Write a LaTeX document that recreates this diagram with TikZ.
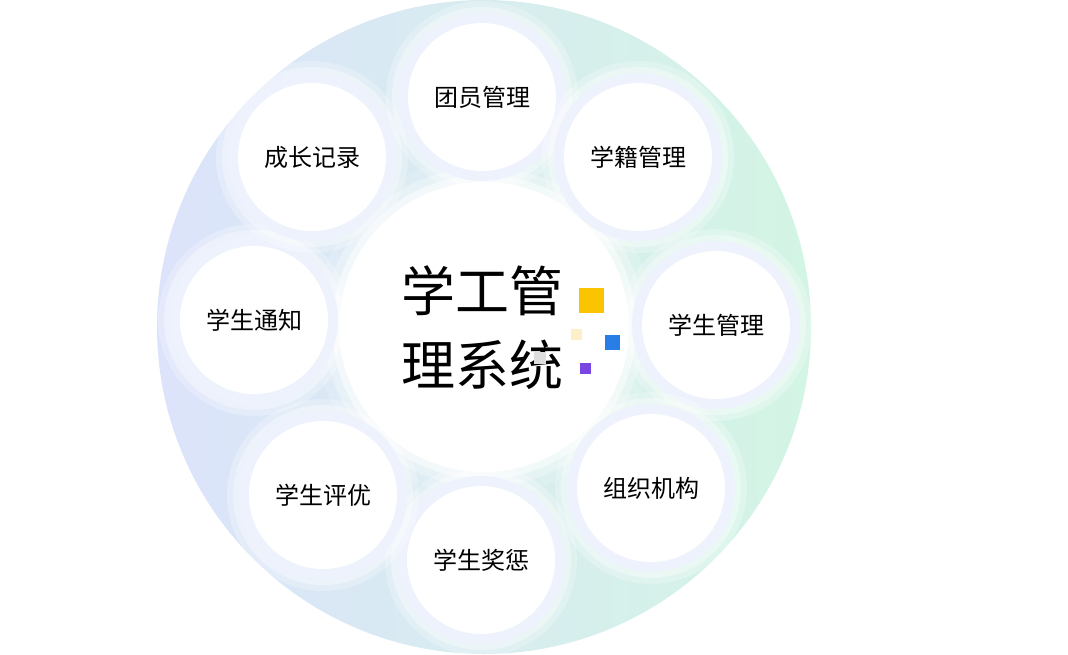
\documentclass[tikz,border=0pt]{standalone}
\usepackage{fontspec}
\newfontfamily\cjk{Noto Sans CJK SC}
\begin{document}
\begin{tikzpicture}[x=1pt,y=-1pt,
  ring/.style={circle,minimum size=168pt,fill=ringc,inner sep=0pt},
  item/.style={circle,minimum size=148pt,fill=white,inner sep=0pt,font=\cjk\fontsize{24}{24}\selectfont},
  sq/.style={inner sep=0pt}]
\definecolor{ringc}{HTML}{EEF2FD}
\definecolor{bgl}{HTML}{DCE3FB}
\definecolor{bgr}{HTML}{D3F5E4}
\useasboundingbox (0,0) rectangle (1068,654);
\shade[left color=bgl,right color=bgr] (484,327) circle (327);
% center
\foreach \r/\o in {170/0.15,160/0.3,152/0.5}{\fill[white,opacity=\o] (484,327) circle (\r);}
\node[circle,fill=white,minimum size=290pt,inner sep=0pt] (c) at (484,327) {};
\node[font=\cjk\fontsize{54}{74}\selectfont,align=left,anchor=west] (t) at (398,328) {学工管\\理系统};
\node[sq,fill={rgb,255:red,250;green,197;blue,0},minimum size=25pt] (s1) at (591,300) {};
\node[sq,fill={rgb,255:red,253;green,240;blue,200},minimum size=11pt] (s2) at (576,334) {};
\node[sq,fill={rgb,255:red,40;green,125;blue,230},minimum size=15pt] (s3) at (612,342) {};
\node[sq,fill={rgb,255:red,222;green,222;blue,222},minimum size=12pt] (s4) at (540,358) {};
\node[sq,fill={rgb,255:red,120;green,70;blue,225},minimum size=11pt] (s5) at (585,368) {};
% items
\foreach \n/\x/\y/\t in {a/482/97/团员管理,b/638/157/学籍管理,c2/716/325/学生管理,d/651/488/组织机构,e/481/560/学生奖惩,f/323/495/学生评优,g/254/320/学生通知,h/312/157/成长记录}{
  \fill[white,opacity=0.25] (\x,\y) circle (96);
  \fill[white,opacity=0.35] (\x,\y) circle (90);
  \node[ring] (r\n) at (\x,\y) {};
  \node[item] (\n) at (\x,\y) {\t};
}
\end{tikzpicture}
\end{document}
